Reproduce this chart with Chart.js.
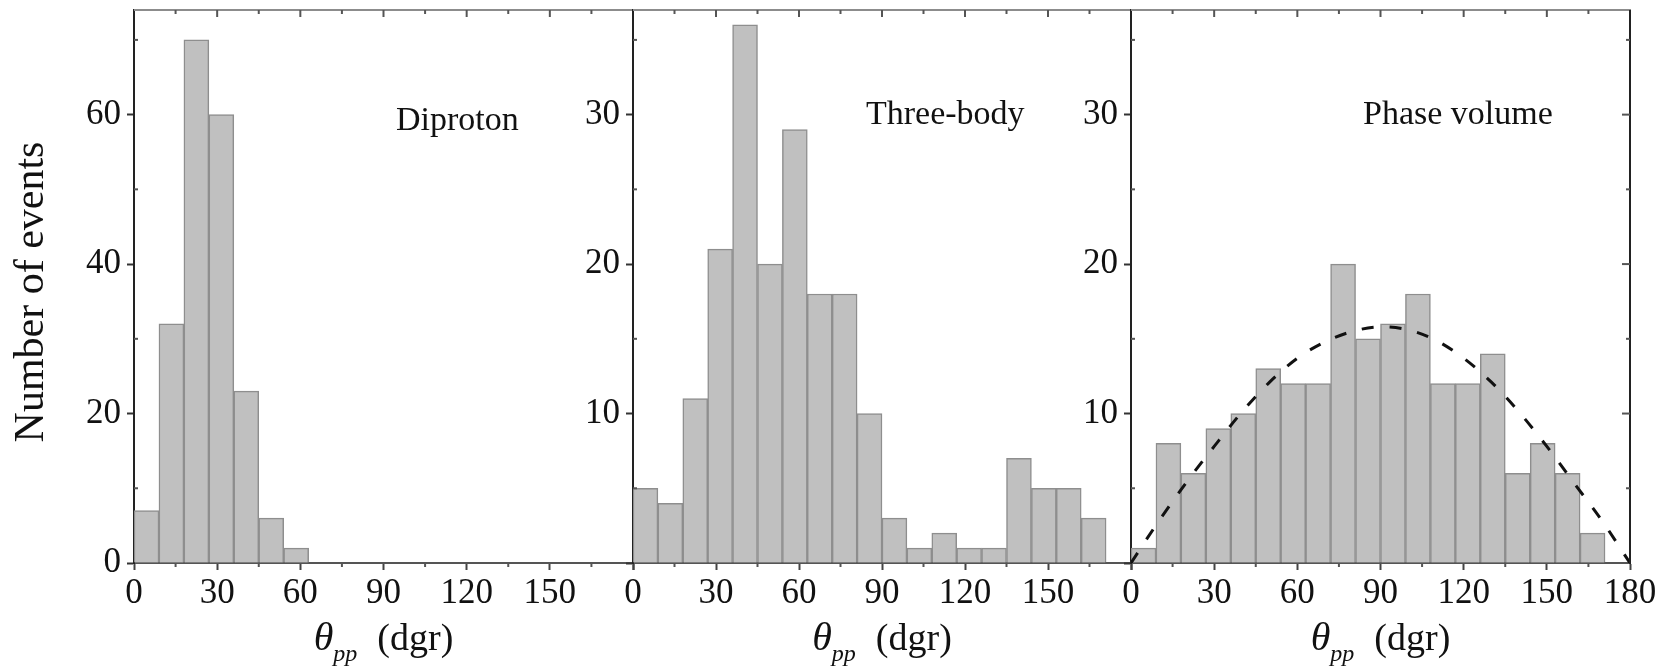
<!DOCTYPE html>
<html><head><meta charset="utf-8">
<script src="https://cdn.jsdelivr.net/npm/chart.js@4.4.1/dist/chart.umd.min.js"></script>
<style>
html,body{margin:0;padding:0;background:#fff;width:1672px;height:668px;overflow:hidden}
canvas{position:absolute;left:0;top:0}
</style></head><body>
<canvas id="c1" width="1672" height="668"></canvas>
<canvas id="c2" width="1672" height="668"></canvas>
<canvas id="c3" width="1672" height="668"></canvas>
<script>
// ---- data ----
const binCenters = [4.5,13.5,22.5,31.5,40.5,49.5,58.5,67.5,76.5,85.5,94.5,103.5,112.5,121.5,130.5,139.5,148.5,157.5,166.5,175.5];
const diprotonCounts   = [7,32,70,60,23,6,2,0,0,0,0,0,0,0,0,0,0,0,0,0];
const threeBodyCounts  = [5,4,11,21,36,20,29,18,18,10,3,1,2,1,1,7,5,5,3,0];
const phaseVolumeCounts= [1,8,6,9,10,13,12,12,20,15,16,18,12,12,14,6,8,6,2,0];
const curveAngles = [0,10,20,30,40,50,60,70,80,90,100,110,120,130,140,150,160,170,180];
const curveValues = [0,2.8,5.4,7.8,10.1,12.1,13.7,14.8,15.5,15.8,15.6,14.9,13.7,12.1,10.1,7.8,5.3,2.8,0];
const panelTitles = ['Diproton','Three-body','Phase volume'];
const yAxisTitle = 'Number of events';
const xTitleSymbol = 'θ', xTitleSub = 'pp', xTitleUnit = '(dgr)';
const yLabels1 = [0,20,40,60];
const yLabels23 = [10,20,30];
const xLabels12 = [0,30,60,90,120,150];
const xLabels3 = [0,30,60,90,120,150,180];

const SERIF = "'Liberation Serif','Times New Roman',serif";
Chart.defaults.font.family = SERIF;
Chart.defaults.color = '#111';

const framePlugin = {
  id: 'frame',
  afterDraw(chart, args, o) {
    const {ctx, chartArea: a} = chart;
    const x = chart.scales.x, y = chart.scales.y;
    ctx.save();
    const seg = (x1,y1,x2,y2,c,w) => {ctx.beginPath();ctx.strokeStyle=c;ctx.lineWidth=w;ctx.moveTo(x1,y1);ctx.lineTo(x2,y2);ctx.stroke();};
    seg(a.left, a.top, a.right + (o.right?1:0), a.top, '#8c8c8c', 2);
    if (o.right) seg(a.right, a.top, a.right, a.bottom + 1, '#222', 2);
    for (let v = 0; v <= 180; v += 15) {
      const px = x.getPixelForValue(v);
      const major = v % 30 === 0;
      if (v > 0 && v < 180) seg(px, a.top, px, a.top + (major ? 7 : 4), '#555', 2);
      if (!major) seg(px, a.bottom, px, a.bottom + 4, '#555', 2);
    }
    for (let v = o.yStep / 2; v < y.max; v += o.yStep) {
      const py = y.getPixelForValue(v);
      seg(a.left, py, a.left + 4, py, '#555', 2);
      if (o.right) seg(a.right, py, a.right - 4, py, '#555', 2);
    }
    if (o.right) {
      for (let v = o.yStep; v < y.max; v += o.yStep) {
        const py = y.getPixelForValue(v);
        seg(a.right, py, a.right - 8, py, '#555', 2);
      }
    }
    // panel annotation
    ctx.fillStyle = '#111';
    ctx.textBaseline = 'alphabetic';
    ctx.textAlign = 'left';
    ctx.font = '34px ' + SERIF;
    ctx.fillText(o.title, x.getPixelForValue(o.titleX), y.getPixelForValue(o.titleY));
    // x title
    ctx.font = 'italic 40px ' + SERIF; const w1 = ctx.measureText(xTitleSymbol).width;
    ctx.font = 'italic 24px ' + SERIF; const w2 = ctx.measureText(xTitleSub).width;
    ctx.font = '38px ' + SERIF; const w3 = ctx.measureText(xTitleUnit).width;
    const gap = 20;
    let sx = (a.left + a.right) / 2 - (w1 + w2 + gap + w3) / 2;
    const base = a.bottom + 87;
    ctx.font = 'italic 40px ' + SERIF; ctx.fillText(xTitleSymbol, sx, base); sx += w1;
    ctx.font = 'italic 24px ' + SERIF; ctx.fillText(xTitleSub, sx, base + 11); sx += w2 + gap;
    ctx.font = '38px ' + SERIF; ctx.fillText(xTitleUnit, sx, base);
    // y title
    if (o.yTitle) {
      ctx.translate(a.left - 91, a.top + 282);
      ctx.rotate(-Math.PI / 2);
      ctx.textAlign = 'center';
      ctx.font = '42px ' + SERIF;
      ctx.fillText(yAxisTitle, 0, 0);
    }
    ctx.restore();
  }
};

function makePanel(id, counts, box, yMax, yStep, yShown, xShown, frameOpts, curve) {
  const datasets = [{
    type: 'bar',
    data: binCenters.map((c, i) => ({x: c, y: counts[i]})),
    backgroundColor: '#c0c0c0',
    borderColor: '#8e8e8e',
    borderWidth: 1.5,
    borderSkipped: 'bottom',
    barPercentage: 1,
    categoryPercentage: 1,
    order: 2
  }];
  if (curve) {
    datasets.push({
      type: 'line',
      data: curveAngles.map((a, i) => ({x: a, y: curveValues[i]})),
      borderColor: '#111',
      borderWidth: 3,
      borderDash: [12, 16],
      pointRadius: 0,
      fill: false,
      cubicInterpolationMode: 'monotone',
      order: 1
    });
  }
  new Chart(document.getElementById(id), {
    type: 'bar',
    data: {datasets},
    plugins: [framePlugin],
    options: {
      responsive: false,
      animation: false,
      events: [],
      layout: {padding: {left: box.left - 60, right: 1672 - box.right, top: 10, bottom: 25}},
      plugins: {legend: {display: false}, tooltip: {enabled: false}, frame: frameOpts},
      scales: {
        x: {
          type: 'linear', min: 0, max: 180, offset: false,
          grid: {offset: false, drawOnChartArea: false, drawTicks: true, tickLength: 7, tickColor: '#444', tickWidth: 2},
          border: {display: true, color: '#555', width: 2},
          ticks: {stepSize: 30, padding: 3, font: {size: 35}, color: '#111', maxRotation: 0, autoSkip: false,
                  callback: v => xShown.includes(v) ? String(v) : ''},
          afterFit: s => { s.height = 80; s.paddingLeft = 0; s.paddingRight = 0; }
        },
        y: {
          type: 'linear', min: 0, max: yMax,
          grid: {drawOnChartArea: false, drawTicks: true, tickLength: 7, tickColor: '#333', tickWidth: 2},
          border: {display: true, color: '#222', width: 2},
          ticks: {stepSize: yStep, includeBounds: false, padding: 6, font: {size: 35}, color: '#111',
                  callback: v => yShown.includes(v) ? String(v) : ''},
          afterFit: s => { s.width = 60; s.paddingTop = 0; s.paddingBottom = 0; }
        }
      }
    }
  });
}

makePanel('c1', diprotonCounts, {left: 134, right: 633}, 74, 20, yLabels1, xLabels12,
  {yStep: 20, right: false, title: panelTitles[0], titleX: 94.5, titleY: 58, yTitle: true}, false);
makePanel('c2', threeBodyCounts, {left: 633, right: 1131}, 37, 10, yLabels23, xLabels12,
  {yStep: 10, right: false, title: panelTitles[1], titleX: 84.2, titleY: 29.4, yTitle: false}, false);
makePanel('c3', phaseVolumeCounts, {left: 1131, right: 1630}, 37, 10, yLabels23, xLabels3,
  {yStep: 10, right: true, title: panelTitles[2], titleX: 83.7, titleY: 29.4, yTitle: false}, true);
</script>
</body></html>
